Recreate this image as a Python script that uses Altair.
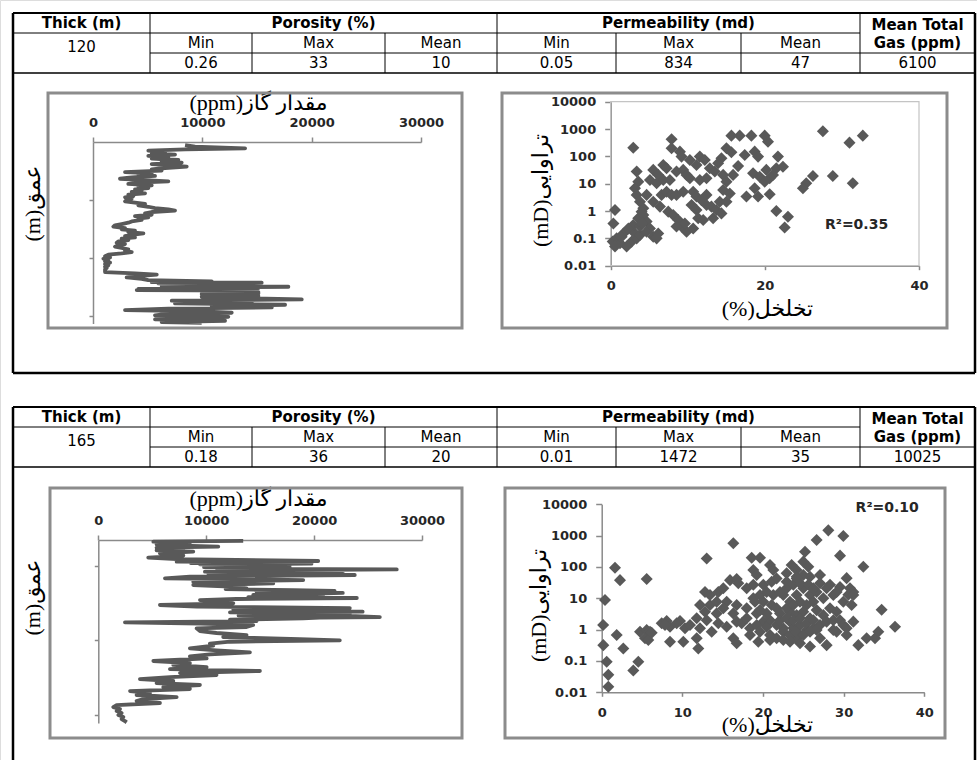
import altair as alt
import pandas as pd

# ---------------- data ----------------
THICK = [120, 165]
POR_MIN = [0.26, 0.18]
POR_MAX = [33, 36]
POR_MEAN = [10, 20]
PERM_MIN = [0.05, 0.01]
PERM_MAX = [834, 1472]
PERM_MEAN = [47, 35]
GAS_MEAN = [6100, 10025]
R2 = [0.35, 0.10]

HEADERS = ["Thick (m)", "Porosity (%)", "Permeability (md)", "Mean Total", "Gas (ppm)"]
SUBHEAD = ["Min", "Max", "Mean"]

GAS_TITLE = "(ppm)مقدار گاز"
DEPTH_TITLE = "(m)عمق"
POR_TITLE = "(%)تخلخل"
PERM_TITLE = "(mD)تراوایی"
GAS_TICKS = [0, 10000, 20000, 30000]
PERM_TICKS = [0.01, 0.1, 1, 10, 100, 1000, 10000]
POR_TICKS_1 = [0, 20, 40]
POR_TICKS_2 = [0, 10, 20, 30, 40]
DEPTH_TICKS_1 = [40, 80, 120]
DEPTH_TICKS_2 = [24, 93, 163]

depth1 = [2.1, 3.2, 4.4, 5.1, 6.0, 6.9, 7.8, 8.7, 9.6, 10.6,
          11.5, 12.4, 13.3, 14.2, 15.2, 16.1, 17.0, 17.9, 18.8, 19.7,
          20.7, 21.6, 22.5, 23.4, 24.3, 25.3, 26.2, 27.1, 28.0, 28.9,
          29.9, 30.8, 31.7, 32.6, 33.5, 34.4, 35.4, 36.3, 37.2, 38.1,
          39.0, 40.0, 40.9, 41.8, 42.7, 43.6, 44.6, 45.5, 46.4, 47.3,
          48.2, 49.2, 50.1, 51.0, 51.9, 52.8, 53.7, 54.7, 55.6, 56.5,
          57.4, 58.3, 59.3, 60.2, 61.1, 62.0, 62.9, 63.9, 64.8, 65.7,
          66.6, 67.5, 68.4, 69.4, 70.3, 71.2, 72.1, 73.0, 74.0, 74.9,
          75.8, 76.7, 77.6, 78.6, 79.5, 80.4, 81.3, 82.2, 83.1, 84.1,
          85.0, 85.9, 86.8, 87.7, 88.7, 89.6, 90.5, 91.4, 92.3, 93.3,
          94.2, 95.1, 96.0, 96.5, 96.9, 97.4, 97.8, 98.3, 98.8, 99.2,
          99.7, 100.1, 100.6, 101.1, 101.5, 102.0, 102.4, 102.9, 103.4, 103.8,
          104.3, 104.7, 105.2, 105.7, 106.1, 106.6, 107.5, 108.4, 109.3, 110.3,
          111.2, 112.1, 113.0, 113.9, 114.8, 115.8, 116.7, 117.6, 118.5, 119.4,
          120.4, 121.3, 122.2, 123.1, 124.0, 124.5]
gas1 = [8420, 9330, 13910, 8420, 5060, 6590, 5370, 7500, 5060, 6890,
        5370, 7810, 6280, 8110, 5370, 7200, 8570, 6590, 5370, 6280,
        2930, 5370, 4150, 5670, 3540, 2470, 4760, 6890, 4150, 3230,
        5370, 4150, 5060, 3840, 4450, 3540, 4760, 3230, 3690, 2930,
        3540, 3080, 2930, 3840, 4760, 4150, 5060, 5670, 6890, 7500,
        5370, 4760, 5370, 3840, 5060, 4150, 4450, 3540, 3230, 2620,
        2010, 1860, 2930, 2620, 3840, 3230, 4610, 3540, 2930, 3840,
        2620, 3230, 2320, 2170, 2930, 2320, 2010, 2620, 3230, 2930,
        3540, 2620, 1400, 1100, 1560, 950, 1400, 1100, 1560, 1100,
        1400, 1100, 1250, 1100, 1100, 1100, 3840, 5830, 4150, 3080,
        4450, 5060, 10860, 5370, 15430, 5980, 14520, 7200, 15130, 6280,
        17870, 11470, 15130, 4150, 12080, 4000, 14520, 10550, 15130, 10250,
        15130, 9940, 13910, 11470, 15130, 9940, 13910, 19090, 7200, 14520,
        7500, 17570, 10860, 16350, 6890, 2930, 9940, 12690, 6590, 5670,
        12380, 10250, 5670, 12080, 6280, 9940]

depth2 = [0.9, 1.6, 2.8, 4.0, 5.3, 6.2, 7.1, 8.4, 9.6, 10.8,
          12.4, 13.3, 14.6, 16.4, 17.7, 18.6, 19.5, 20.1, 20.6, 21.1,
          21.5, 22.0, 22.6, 23.2, 23.9, 24.3, 24.8, 25.2, 25.7, 26.3,
          26.8, 27.3, 28.2, 28.8, 29.4, 30.0, 30.7, 31.3, 31.9, 32.5,
          33.3, 34.1, 35.6, 37.2, 38.7, 40.3, 41.8, 43.4, 44.9, 45.7,
          46.5, 47.3, 48.0, 49.2, 50.5, 51.1, 52.3, 53.1, 53.9, 54.8,
          55.8, 57.3, 58.8, 60.4, 61.9, 63.2, 64.0, 64.7, 66.0, 66.6,
          67.2, 68.5, 69.7, 70.1, 70.6, 71.6, 72.2, 72.8, 74.0, 75.3,
          76.5, 77.7, 79.0, 80.8, 82.1, 84.6, 86.4, 88.3, 90.1, 92.0,
          93.2, 94.5, 96.3, 98.2, 100.7, 102.5, 104.4, 106.2, 108.1, 110.0,
          112.4, 114.3, 116.1, 118.0, 119.9, 121.7, 123.6, 125.4, 127.3, 129.2,
          131.0, 132.9, 134.7, 136.6, 138.4, 140.3, 142.2, 144.0, 145.9, 147.7,
          149.6, 151.4, 153.3, 155.2, 157.0, 158.9, 160.7, 162.6, 164.5, 166.3,
          168.2, 169.4]
gas2 = [13430, 5100, 8490, 5400, 7880, 11120, 5400, 7880, 5400, 8800,
        5710, 7260, 7880, 4630, 7260, 12810, 20380, 7260, 16800, 18370,
        8600, 19760, 9420, 17750, 10650, 16900, 12810, 9800, 17750, 17440,
        11000, 27660, 13120, 22690, 9880, 18900, 17750, 10200, 14670, 23770,
        15200, 8490, 6180, 18990, 8800, 16210, 8800, 12200, 13740, 11800,
        18060, 21900, 14670, 22660, 17750, 14360, 20840, 13900, 23960, 12810,
        9420, 11580, 12510, 5710, 9110, 23310, 19500, 12510, 17750, 24500,
        12200, 23310, 18990, 13000, 23310, 26090, 20500, 18990, 12200, 14670,
        2470, 9420, 14360, 13740, 9110, 9420, 10960, 13740, 11580, 18680,
        22380, 12200, 10340, 10650, 8490, 10960, 14050, 10340, 8490, 10040,
        5100, 8490, 6950, 10040, 6640, 14980, 7570, 10960, 6640, 3860,
        6950, 5400, 9420, 6020, 8490, 2940, 4790, 3550, 7260, 4170,
        3550, 5710, 1700, 1390, 2010, 1700, 2160, 1860, 2320, 2160,
        2470, 2630]

por1 = [2.93, 7.90, 7.90, 8.98, 9.19, 11.56, 12.21, 15.02, 15.66, 15.66,
        16.74, 18.25, 19.98, 20.41, 17.39, 18.68, 19.12, 21.70, 21.49, 22.35,
        16.53, 14.37, 13.94, 11.56, 12.43, 12.86, 13.51, 14.59, 15.02, 15.88,
        18.47, 19.33, 19.98, 20.63, 20.19, 21.06, 18.68, 17.61, 19.12, 20.63,
        21.49, 23.00, 22.57, 25.37, 26.24, 24.94, 27.53, 28.82, 30.98, 32.71,
        31.41, 0.56, 0.35, 0.26, 0.78, 1.21, 0.56, 2.72, 3.37, 2.93,
        3.80, 3.37, 3.58, 3.15, 3.37, 3.80, 4.23, 4.23, 4.66, 5.09,
        2.93, 3.80, 4.66, 5.52, 6.17, 5.96, 5.52, 6.82, 7.25, 6.17,
        4.66, 5.52, 6.39, 6.60, 7.25, 7.90, 7.47, 8.11, 8.76, 9.19,
        9.84, 10.70, 8.54, 9.41, 9.84, 10.27, 8.54, 9.41, 10.70, 11.13,
        10.49, 11.13, 11.78, 12.43, 12.43, 13.07, 13.72, 14.37, 14.15, 15.02,
        13.29, 11.35, 1.64, 2.29, 3.58, 4.01, 5.09, 5.96, 6.82, 7.68,
        10.27, 11.13, 14.59, 15.45, 8.54, 9.62, 12.00, 2.07, 1.42, 4.01]
perm1 = [208, 421, 197, 149, 98, 98, 74, 197, 141, 573,
         573, 573, 573, 346, 112, 149, 98, 98, 37, 42,
         44, 85, 56, 13.7, 15.7, 37, 28, 21, 11.9, 21,
         24, 18, 11.9, 15.7, 32, 21, 6.8, 3.4, 3.4, 4.1,
         1.0, 0.62, 0.25, 10.3, 19, 6.8, 834, 19, 318, 573,
         10.3, 1.09, 0.35, 0.076, 0.10, 0.066, 0.050, 0.076, 0.10, 0.176,
         0.133, 28, 11.9, 6.8, 3.9, 2.2, 1.26, 0.72, 0.41, 0.23,
         0.31, 0.27, 0.176, 0.115, 0.15, 0.10, 32, 48, 37, 21,
         3.9, 2.2, 1.45, 3.9, 5.1, 3.9, 0.95, 0.72, 0.47, 0.27,
         0.176, 0.23, 28, 32, 21, 15.7, 3.9, 5.1, 5.1, 3.4,
         1.66, 1.09, 2.5, 3.9, 1.66, 1.45, 1.09, 0.82, 2.2, 2.2,
         0.54, 0.54, 0.15, 0.23, 0.54, 0.95, 13.7, 10.3, 13.7, 13.7,
         74, 48, 5.9, 4.4, 0.27, 0.35, 0.47, 0.05, 0.115, 0.35]

por2 = [0.41, 0.18, 0.2, 0.62, 0.82, 0.82, 1.65, 2.27, 1.86, 2.68,
        3.92, 4.54, 5.58, 4.75, 5.58, 5.99, 5.37, 5.78, 7.44, 8.06,
        8.47, 8.47, 10.12, 9.71, 10.33, 11.78, 11.98, 12.19, 12.81, 13.02,
        12.81, 13.43, 13.43, 14.26, 13.64, 14.46, 14.46, 15.08, 15.91, 16.32,
        16.74, 16.94, 15.50, 16.74, 16.32, 16.74, 18.60, 19.63, 18.80, 19.22,
        17.98, 18.80, 17.98, 19.01, 19.22, 17.36, 18.39, 19.42, 20.87, 20.87,
        21.28, 20.04, 21.07, 21.69, 20.04, 21.07, 21.69, 20.04, 20.87, 21.69,
        22.52, 23.35, 20.87, 21.69, 22.52, 22.93, 23.55, 24.17, 25.00, 25.62,
        25.00, 24.17, 25.83, 27.07, 25.21, 26.65, 28.10, 29.96, 29.55, 32.44,
        30.37, 28.31, 29.55, 30.79, 31.20, 27.48, 28.72, 29.96, 30.99, 25.00,
        25.83, 26.65, 24.17, 23.35, 22.52, 23.35, 24.17, 25.00, 25.83, 26.65,
        27.48, 23.76, 24.59, 25.41, 26.24, 27.07, 27.89, 28.72, 29.55, 24.17,
        25.83, 27.07, 27.89, 29.13, 30.37, 31.82, 32.85, 33.89, 34.30, 34.71,
        36.37, 30.58, 21.28, 22.11, 22.93, 23.76, 24.59, 22.11, 22.93, 23.76,
        24.59, 25.41, 26.24, 22.11, 22.93, 23.76, 24.59, 25.41, 26.24, 23.35,
        24.17, 25.00, 25.83, 26.65, 22.52, 23.35, 24.59, 19.63, 20.45, 18.80,
        19.63, 20.45, 20.45, 19.22, 22.93, 24.17, 25.62, 26.24, 27.07, 27.89,
        28.31, 29.13, 29.96, 31.20, 30.37, 28.72, 31.20, 29.13, 19.63, 18.39,
        17.98, 16.74, 15.50, 16.32, 15.08, 14.26, 13.02, 12.19, 11.78, 10.95,
        7.85, 6.20, 9.30]
perm2 = [8.8, 1.4, 0.32, 0.095, 0.036, 0.015, 95, 38, 0.67, 0.25,
         0.05, 0.095, 41, 0.86, 0.97, 0.86, 0.53, 0.47, 1.6, 1.9,
         1.24, 0.41, 0.41, 1.9, 1.10, 2.3, 0.25, 6.1, 3.7, 187,
         16, 12.7, 6.1, 7.8, 0.86, 1.6, 16, 21, 38, 568,
         41, 30, 7.8, 6.1, 0.53, 0.37, 198, 198, 80, 55,
         21, 27, 4.8, 7.8, 3.3, 1.6, 1.10, 0.41, 0.47, 116,
         80, 27, 34, 43, 7.8, 6.1, 4.8, 1.8, 2.0, 1.4,
         1.10, 1.8, 0.67, 0.53, 0.86, 63, 116, 80, 148, 102,
         55, 43, 49, 55, 308, 726, 1472, 973, 230, 102,
         44, 27, 23, 21, 16, 10, 12.7, 7.8, 6.1, 21,
         12.7, 16, 12.7, 7.8, 12.7, 3.7, 2.9, 3.7, 2.3, 4.2,
         2.9, 1.10, 1.4, 0.97, 1.10, 1.4, 1.8, 2.0, 2.0, 0.53,
         0.29, 0.53, 0.32, 0.86, 0.67, 0.32, 0.53, 0.53, 0.86, 4.3,
         1.24, 13, 12.7, 16, 21, 27, 30, 3.3, 4.8, 6.1,
         7.8, 6.1, 7.8, 2.0, 2.3, 2.0, 2.3, 1.6, 2.0, 0.67,
         0.86, 0.67, 0.86, 0.97, 0.47, 0.41, 0.37, 12.7, 16, 10,
         4.2, 3.3, 1.24, 1.4, 34, 49, 27, 21, 30, 21,
         4.8, 3.7, 1.4, 1.8, 1.10, 0.97, 12.7, 16, 0.86, 0.67,
         2.3, 1.8, 1.24, 3.3, 4.8, 3.3, 2.0, 1.10, 0.53, 1.4,
         1.4, 0.80, 1.6]

# ---------------- layout / style ----------------
W, H = 977, 760
COLS = [13, 150, 252, 385, 497, 616, 741, 860, 975]
INK = "#595959"
FRAME = "#8c8c8c"
AXC = "#8a8a8a"
FONT_TABLE = "DejaVu Sans"
FONT_AXIS = "DejaVu Sans"
FONT_FA = "Liberation Serif, DejaVu Sans"

AXIS_STYLE = dict(grid=False, domainColor=AXC, tickColor=AXC, domainWidth=1.5, tickWidth=1.5,
                  labelFont=FONT_AXIS, labelFontSize=13, labelFontWeight="bold", labelColor="#262626",
                  labelFlush=False, labelOverlap=False,
                  titleFont=FONT_FA, titleFontSize=22, titleFontWeight="normal", titleColor="black",
                  titleAlign="center", titleBaseline="middle")


def fmt(v):
    return f"{v:g}"


def table_layers(i, top, bottom, draw_bottom):
    c = COLS
    r0, r1, r2, r3 = top, top + 20, top + 40, top + 60
    segs = [
        (c[0], c[8], r0, r0, 2), (c[0], c[7], r1, r1, 1), (c[1], c[8], r2, r2, 1),
        (c[0], c[8], r3, r3, 1.5),
        (c[0], c[0], r0, bottom, 2.5), (c[8], c[8], r0, bottom, 2.5),
        (c[1], c[1], r0, r3, 1), (c[2], c[2], r1, r3, 1), (c[3], c[3], r1, r3, 1),
        (c[4], c[4], r0, r3, 1), (c[5], c[5], r1, r3, 1), (c[6], c[6], r1, r3, 1),
        (c[7], c[7], r0, r3, 1),
    ]
    if draw_bottom:
        segs.append((c[0], c[8], bottom, bottom, 2.5))
    sdf = pd.DataFrame(segs, columns=["x", "x2", "y", "y2", "w"])
    rules = alt.Chart(sdf).mark_rule(color="black").encode(
        x=alt.X("x:Q", scale=None, axis=None), x2="x2:Q",
        y=alt.Y("y:Q", scale=None, axis=None), y2="y2:Q",
        strokeWidth=alt.StrokeWidth("w:Q", scale=None, legend=None))

    def mid(a, b):
        return (c[a] + c[b]) / 2

    bold = pd.DataFrame({
        "x": [mid(0, 1), mid(1, 4), mid(4, 7), mid(7, 8), mid(7, 8)],
        "y": [r0 + 10, r0 + 10, r0 + 10, r0 + 12, r1 + 10],
        "t": HEADERS})
    vals = [POR_MIN[i], POR_MAX[i], POR_MEAN[i], PERM_MIN[i], PERM_MAX[i], PERM_MEAN[i], GAS_MEAN[i]]
    reg = pd.DataFrame({
        "x": [mid(0, 1)] + [mid(k, k + 1) for k in range(1, 7)] + [mid(k, k + 1) for k in range(1, 8)],
        "y": [r1 + 14] + [r1 + 10] * 6 + [r2 + 10] * 7,
        "t": [fmt(THICK[i])] + SUBHEAD * 2 + [fmt(v) for v in vals]})
    tb = alt.Chart(bold).mark_text(font=FONT_TABLE, fontSize=15, fontWeight="bold", color="black",
                                   baseline="middle").encode(
        x=alt.X("x:Q", scale=None, axis=None), y=alt.Y("y:Q", scale=None, axis=None), text="t:N")
    tr = alt.Chart(reg).mark_text(font=FONT_TABLE, fontSize=15, color="black", baseline="middle").encode(
        x=alt.X("x:Q", scale=None, axis=None), y=alt.Y("y:Q", scale=None, axis=None), text="t:N")
    return [rules, tb, tr]


def gas_chart(depth, gas, x0, x1, y0, y1, dmax, dticks, tx, ty, yx, yy):
    df = pd.DataFrame({"depth": depth, "gas": gas})
    return alt.Chart(df).mark_line(color=INK, strokeWidth=3.8, strokeJoin="round").encode(
        x=alt.X("gas:Q",
                scale=alt.Scale(domain=[0, 30000], range=[x0, x1], nice=False, zero=False),
                axis=alt.Axis(orient="top", offset=-y0, values=GAS_TICKS, format="d", tickSize=5,
                              labelPadding=8, title=GAS_TITLE, titleX=tx, titleY=ty - y0, **AXIS_STYLE)),
        y=alt.Y("depth:Q",
                scale=alt.Scale(domain=[0, dmax], range=[y0, y1], nice=False, zero=False),
                axis=alt.Axis(orient="left", offset=-x0, values=dticks, labels=False, tickSize=4,
                              title=DEPTH_TITLE, titleX=yx - x0, titleY=yy, titleAngle=270, **AXIS_STYLE)),
        order=alt.Order("depth:Q"),
    )


def scatter_chart(por, perm, x0, x1, yb, yt, xticks, tx, ty, yx, yy, r2_text, r2x, r2y):
    df = pd.DataFrame({"por": por, "perm": perm})
    xs = alt.Scale(domain=[0, 40], range=[x0, x1], nice=False, zero=False)
    ys = alt.Scale(type="log", domain=[0.01, 10000], range=[yb, yt], nice=False)
    pts = alt.Chart(df).mark_point(shape="diamond", filled=True, size=145, color=INK, opacity=1).encode(
        x=alt.X("por:Q", scale=xs,
                axis=alt.Axis(orient="bottom", offset=yb - H, values=xticks, tickSize=4, labelPadding=10,
                              title=POR_TITLE, titleX=tx, titleY=ty - yb, **AXIS_STYLE)),
        y=alt.Y("perm:Q", scale=ys,
                axis=alt.Axis(orient="left", offset=-x0, values=PERM_TICKS, format="~g", tickSize=6,
                              labelPadding=9, title=PERM_TITLE, titleX=yx - x0, titleY=yy,
                              titleAngle=270, **AXIS_STYLE)),
    )
    rdf = pd.DataFrame({"por": [r2x], "perm": [r2y], "t": [r2_text]})
    txt = alt.Chart(rdf).mark_text(font=FONT_AXIS, fontSize=14, fontWeight="bold", color="#262626",
                                   baseline="middle").encode(
        x=alt.X("por:Q", scale=xs, axis=None), y=alt.Y("perm:Q", scale=ys, axis=None), text="t:N")
    return [pts, txt]


frames = pd.DataFrame({"x": [48, 502, 50, 505], "x2": [462, 947, 462, 945],
                       "y": [93, 93, 488, 488], "y2": [328, 328, 738, 738]})
frame_layer = alt.Chart(frames).mark_rect(filled=False, color=FRAME, strokeWidth=3).encode(
    x=alt.X("x:Q", scale=None, axis=None), x2="x2:Q", y=alt.Y("y:Q", scale=None, axis=None), y2="y2:Q")

view1 = pd.DataFrame({"x": [610.7], "x2": [919], "y": [101.7], "y2": [265.7]})
view_layer = alt.Chart(view1).mark_rect(filled=False, color="#c4c4c4", strokeWidth=1.2).encode(
    x=alt.X("x:Q", scale=None, axis=None), x2="x2:Q", y=alt.Y("y:Q", scale=None, axis=None), y2="y2:Q")

layers = []
layers += table_layers(0, 13, 373, True)
layers += table_layers(1, 407, 762, False)
layers += [frame_layer, view_layer]
layers.append(gas_chart(depth1, gas1, 93, 421, 142, 323.5, 125, DEPTH_TICKS_1, 258, 102, 32, 203))
layers.append(gas_chart(depth2, gas2, 98.3, 422, 540, 723, 170, DEPTH_TICKS_2, 258, 498, 32, 597))
layers += scatter_chart(por1, perm1, 610.7, 919, 265.7, 101.7, POR_TICKS_1, 767, 308, 540, 190,
                        f"R²={R2[0]:.2f}", 31.9, 0.31)
layers += scatter_chart(por2, perm2, 601.7, 924.3, 692.3, 504.3, POR_TICKS_2, 767, 724, 538, 605,
                        f"R²={R2[1]:.2f}", 35.4, 7600)

chart = alt.layer(*layers).resolve_scale(x="independent", y="independent").properties(
    width=W, height=H, autosize=alt.AutoSizeParams(type="none"), padding=0
).configure_view(stroke=None).configure(background="white")

chart.save("out.html", embed_options={"renderer": "svg", "actions": False})
